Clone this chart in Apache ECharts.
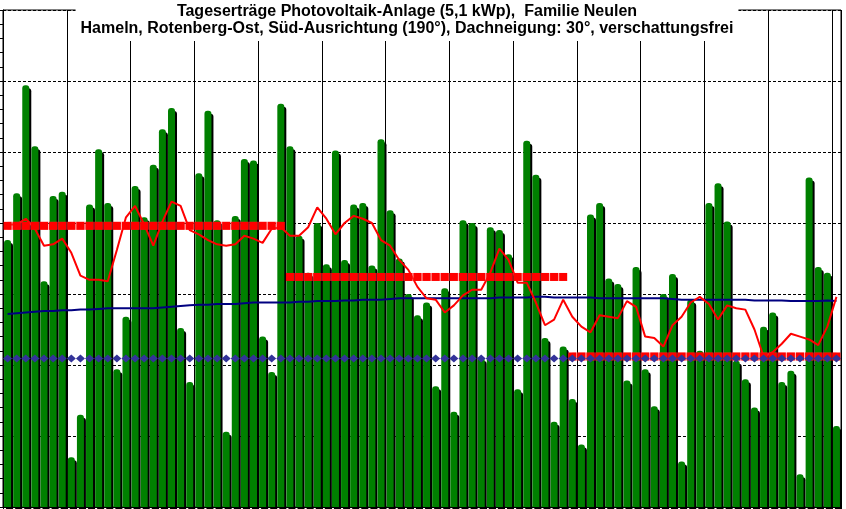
<!DOCTYPE html>
<html>
<head>
<meta charset="utf-8">
<title>Tageserträge Photovoltaik-Anlage</title>
<script src="https://cdn.jsdelivr.net/npm/echarts@6/dist/echarts.min.js"></script>
<style>
  html, body { margin: 0; padding: 0; background: #fff; }
  #chart { width: 846px; height: 509px; }
</style>
</head>
<body>
<div id="chart"></div>
<script>
  // Tageserträge in kWh, drei Monate (Juli - September)
  const monthNames = ['7', '8', '9']
  const monthDays = [31, 31, 30]

  const dailyYield = [
    18.8, 22.1, 29.7, 25.4, 15.9, 21.9, 22.2, 3.5, 6.5, 21.3, 25.2, 21.4, 9.7, 13.4, 22.6, 20.4,
    24.1, 26.6, 28.1, 12.6, 8.8, 23.5, 27.9, 20.2, 5.3, 20.5, 24.5, 24.4, 12.0, 9.5, 28.4,
    25.4, 19.1, 16.5, 20.0, 17.1, 25.1, 17.4, 21.3, 21.4, 17.0, 25.9, 20.9, 17.5, 15.0, 13.5, 14.4,
    8.5, 15.4, 6.7, 20.2, 20.0, 10.5, 19.7, 19.5, 17.8, 8.3, 25.8, 23.4, 11.9, 6.0, 11.3,
    7.6, 4.4, 20.6, 21.4, 16.1, 15.7, 8.9, 16.9, 9.7, 7.1, 15.0, 16.4, 3.2, 14.6, 11.0,
    21.4, 22.8, 20.1, 10.3, 9.0, 7.0, 12.7, 13.7, 8.8, 9.6, 2.3, 23.2, 16.9, 16.5, 5.7
  ]

  // gleitender Mittelwert (rote Linie)
  const movingAvg = [
    19.9, 19.9, 20.3, 19.6, 18.4, 18.5, 18.9, 17.9, 16.3, 16.0, 16.0, 15.9, 18.1, 20.4, 21.2, 19.9,
    18.4, 20.1, 21.5, 21.2, 19.5, 19.2, 18.8, 18.5, 18.4, 18.5, 19.1, 18.9, 18.6, 19.6, 19.7,
    19.1, 19.1, 19.7, 21.1, 20.3, 19.2, 20.0, 20.5, 20.3, 20.0, 18.8, 18.4, 17.4, 16.7, 15.5, 14.7,
    14.6, 13.7, 14.2, 14.9, 15.3, 15.3, 16.5, 18.2, 17.4, 15.8, 15.8, 14.4, 12.8, 13.2, 14.6,
    13.4, 12.7, 12.3, 13.5, 13.4, 13.3, 14.5, 14.1, 12.0, 11.9, 11.3, 12.8, 13.4, 14.4, 14.8,
    14.3, 13.2, 14.2, 14.0, 13.9, 12.5, 10.6, 10.9, 11.5, 12.2, 12.0, 11.8, 11.4, 12.7, 14.8
  ]

  // Langzeit-Mittelwert (blaue Linie)
  const longTermAvg = [
    13.6, 13.65, 13.7, 13.75, 13.8, 13.8, 13.85, 13.85, 13.9, 13.9, 13.95, 14.0, 14.0, 14.0, 14.0, 14.0,
    14.0, 14.05, 14.1, 14.15, 14.2, 14.25, 14.25, 14.3, 14.3, 14.3, 14.35, 14.4, 14.4, 14.4, 14.4,
    14.4, 14.45, 14.45, 14.5, 14.5, 14.5, 14.55, 14.55, 14.6, 14.6, 14.6, 14.65, 14.7, 14.7, 14.7, 14.7,
    14.7, 14.7, 14.7, 14.7, 14.7, 14.7, 14.7, 14.75, 14.75, 14.75, 14.75, 14.8, 14.8, 14.75, 14.75,
    14.75, 14.75, 14.75, 14.7, 14.7, 14.7, 14.7, 14.7, 14.7, 14.7, 14.7, 14.65, 14.6, 14.6, 14.6,
    14.6, 14.6, 14.6, 14.6, 14.6, 14.55, 14.55, 14.55, 14.55, 14.5, 14.5, 14.5, 14.5, 14.55, 14.5
  ]

  const monthAvg = [19.8, 16.2, 10.6]
  const targetAvg = 10.45

  const TITLE = 'Tageserträge Photovoltaik-Anlage (5,1 kWp),  Familie Neulen\n' +
    'Hameln, Rotenberg-Ost, Süd-Ausrichtung (190°), Dachneigung: 30°, verschattungsfrei'

  // Kategorien: Tag.Monat.
  let days = []
  monthDays.forEach((n, m) => {
    for (let d = 1; d <= n; d++) days.push(d + '.' + monthNames[m] + '.')
  })

  // Monatsmittel nur im jeweiligen Monat
  let monthSeries = []
  let start = 0
  monthDays.forEach((n, m) => {
    let data = days.map((_, i) => (i >= start && i < start + n) ? monthAvg[m] : null)
    start += n
    monthSeries.push({
      name: 'Monatsmittel ' + monthNames[m],
      type: 'line',
      data: data,
      symbol: 'rect',
      symbolSize: [8, 8],
      showAllSymbol: true,
      connectNulls: false,
      itemStyle: {color: '#ff0000'},
      lineStyle: {color: 'rgba(255, 80, 80, 0.45)', width: 8},
      z: 5
    })
  })

  let myChart = echarts.init(document.getElementById('chart'))
  myChart.setOption({
    animation: false,
    backgroundColor: '#fff',
    title: {
      text: TITLE,
      left: 402,
      top: 0,
      textAlign: 'center',
      padding: [3, 5, 4, 5],
      backgroundColor: '#fff',
      textStyle: {
        fontFamily: 'Liberation Sans, Arial, sans-serif',
        fontSize: 16,
        fontWeight: 'bold',
        color: '#000',
        lineHeight: 17
      },
      z: 10
    },
    grid: {
      left: 3,
      right: 5,
      top: 10,
      bottom: 2,
      show: true,
      borderColor: '#000',
      borderWidth: 1,
      outerBoundsMode: 'none'
    },
    xAxis: {
      type: 'category',
      data: days,
      boundaryGap: true,
      axisLine: {lineStyle: {color: '#000', width: 1}},
      axisTick: {show: true, length: 2, interval: 0, lineStyle: {color: '#000'}},
      axisLabel: {show: false},
      splitLine: {
        show: true,
        interval: 6,
        lineStyle: {color: '#000', width: 1, type: 'solid'}
      }
    },
    yAxis: {
      type: 'value',
      min: 0,
      max: 35,
      interval: 5,
      axisLine: {show: true, lineStyle: {color: '#000', width: 1}},
      axisTick: {show: true, length: 3, lineStyle: {color: '#000'}},
      minorTick: {show: true, splitNumber: 5, length: 3, lineStyle: {color: '#000'}},
      axisLabel: {show: false},
      splitLine: {
        show: true,
        lineStyle: {color: '#000', width: 1, type: [3, 2]}
      }
    },
    series: [
      {
        name: 'Tagesertrag',
        type: 'bar',
        data: dailyYield,
        barWidth: 7,
        itemStyle: {
          color: '#008000',
          borderRadius: [3, 3, 0, 0],
          shadowColor: '#000',
          shadowOffsetX: 2,
          shadowOffsetY: 3,
          shadowBlur: 0
        },
        z: 2
      },
      {
        name: 'Langzeitmittel',
        type: 'line',
        data: longTermAvg,
        symbol: 'none',
        lineStyle: {color: '#000080', width: 2},
        z: 3
      },
      {
        name: 'Gleitender Mittelwert',
        type: 'line',
        data: movingAvg,
        symbol: 'none',
        lineStyle: {color: '#ff0000', width: 2},
        z: 4
      },
      ...monthSeries,
      {
        name: 'Soll',
        type: 'line',
        data: days.map(() => targetAvg),
        symbol: 'diamond',
        symbolSize: [9, 8],
        showAllSymbol: true,
        itemStyle: {color: '#333399'},
        lineStyle: {width: 0, opacity: 0},
        z: 6
      }
    ]
  })
</script>
</body>
</html>
